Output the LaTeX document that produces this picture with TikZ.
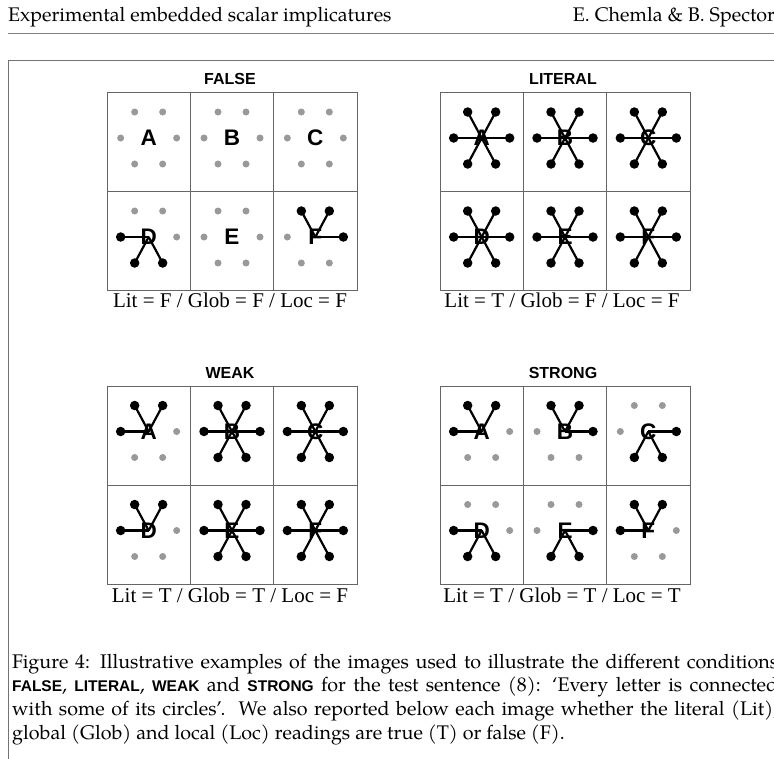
\documentclass[tikz,border=0pt]{standalone}
\usepackage{fontspec}
\setmainfont{TeX Gyre Pagella}
\newfontfamily\labfont{Liberation Serif}
\newfontfamily\sansfam{Liberation Sans}
\newcommand\cellpic[5]{%
  \node[letter] (#1) at (#2,#3) {#4};
  \node[gdot] (#1-tl) at ({#2-14},{#3-26}) {};
  \node[gdot] (#1-tr) at ({#2+14},{#3-26}) {};
  \node[gdot] (#1-l)  at ({#2-28},{#3}) {};
  \node[gdot] (#1-r)  at ({#2+28},{#3}) {};
  \node[gdot] (#1-bl) at ({#2-14},{#3+26}) {};
  \node[gdot] (#1-br) at ({#2+14},{#3+26}) {};
  \foreach \p in {#5} {%
    \draw[link] (#1-\p.center) -- (#1.center);
    \node[bdot] (#1-\p-on) at (#1-\p.center) {};
  }%
}
\newcommand\panelgrid[2]{%
  \draw[gridline] (#1,#2) rectangle ({#1+250},{#2+198});
  \draw[gridline] ({#1+83.33},#2) -- ({#1+83.33},{#2+198});
  \draw[gridline] ({#1+166.67},#2) -- ({#1+166.67},{#2+198});
  \draw[gridline] (#1,{#2+99}) -- ({#1+250},{#2+99});
}
\newcommand\capsf[1]{{\sansfam\bfseries\fontsize{15.5}{23.7}\selectfont #1}}
\begin{document}
\begin{tikzpicture}[x=1pt,y=-1pt,
  gdot/.style={circle,fill=black!40,inner sep=0,minimum size=7},
  bdot/.style={circle,fill=black,inner sep=0,minimum size=9.5},
  letter/.style={font=\sansfam\bfseries\fontsize{22.5}{22}\selectfont,inner sep=0},
  link/.style={line width=2.2,black},
  gridline/.style={draw=black!60,line width=1},
  title/.style={font=\sansfam\bfseries\fontsize{16}{16}\selectfont,anchor=base,inner sep=0},
  lab/.style={font=\labfont\fontsize{21}{22}\selectfont,anchor=base,inner sep=0},
  head/.style={font=\fontsize{19.7}{20}\selectfont,inner sep=0}]
\useasboundingbox (0,0) rectangle (774,758);
\clip (0,0) rectangle (774,758);
\fill[white] (0,0) rectangle (774,758);
% header
\node[head,anchor=base west] (headl) at (8,21) {Experimental embedded scalar implicatures};
\node[head,anchor=base east] (headr) at (775,21) {E. Chemla \& B. Spector};
\draw[black!50,line width=1.5] (8,33.5) -- (780,33.5);
% frame
\draw[black!55,line width=1] (8,770) -- (8,60) -- (780,60);
% grids
\panelgrid{107}{92}
\panelgrid{440}{92}
\panelgrid{107}{386}
\panelgrid{440}{386}
% titles
\node[title] (tfalse) at (230,84) {FALSE};
\node[title] (tlit) at (563,84) {LITERAL};
\node[title] (tweak) at (230,378) {WEAK};
\node[title] (tstrong) at (563,378) {STRONG};
% labels
\node[lab] (lfalse) at (230,307) {Lit = F / Glob = F / Loc = F};
\node[lab] (llit) at (562,307) {Lit = T / Glob = F / Loc = F};
\node[lab] (lweak) at (230,602) {Lit = T / Glob = T / Loc = F};
\node[lab] (lstrong) at (562,602) {Lit = T / Glob = T / Loc = T};
% FALSE
\cellpic{fa}{148.67}{138}{A}{}
\cellpic{fb}{232}{138}{B}{}
\cellpic{fc}{315.33}{138}{C}{}
\cellpic{fd}{148.67}{237}{D}{l,bl,br}
\cellpic{fe}{232}{237}{E}{}
\cellpic{ff}{315.33}{237}{F}{tl,tr,r}
% LITERAL
\cellpic{la}{481.67}{138}{A}{tl,tr,l,r,bl,br}
\cellpic{lb}{565}{138}{B}{tl,tr,l,r,bl,br}
\cellpic{lc}{648.33}{138}{C}{tl,tr,l,r,bl,br}
\cellpic{ld}{481.67}{237}{D}{tl,tr,l,r,bl,br}
\cellpic{le}{565}{237}{E}{tl,tr,l,r,bl,br}
\cellpic{lf}{648.33}{237}{F}{tl,tr,l,r,bl,br}
% WEAK
\cellpic{wa}{148.67}{431.5}{A}{tl,tr,l}
\cellpic{wb}{232}{431.5}{B}{tl,tr,l,r,bl,br}
\cellpic{wc}{315.33}{431.5}{C}{tl,tr,l,r,bl,br}
\cellpic{wd}{148.67}{530.5}{D}{tl,tr,l}
\cellpic{we}{232}{530.5}{E}{tl,tr,l,r,bl,br}
\cellpic{wf}{315.33}{530.5}{F}{tl,tr,l,r,bl,br}
% STRONG
\cellpic{sa}{481.67}{431.5}{A}{tl,tr,l}
\cellpic{sb}{565}{431.5}{B}{tl,tr,r}
\cellpic{sc}{648.33}{431.5}{C}{r,bl,br}
\cellpic{sd}{481.67}{530.5}{D}{l,bl,br}
\cellpic{se}{565}{530.5}{E}{r,bl,br}
\cellpic{sf}{648.33}{530.5}{F}{tl,tr,l}
% caption
\node[anchor=base west,inner sep=0,font=\fontsize{19.7}{23.7}\selectfont] (cap) at (12,668)
 {\parbox[t]{766pt}{Figure 4: Illustrative examples of the images used to illustrate the different conditions\linebreak
 \capsf{FALSE}, \capsf{LITERAL}, \capsf{WEAK} and \capsf{STRONG} for the test sentence (8): ‘Every letter is connected\linebreak
 with some of its circles’.\ \ We also reported below each image whether the literal (Lit),\linebreak
 global (Glob) and local (Loc) readings are true (T) or false (F).}};
\end{tikzpicture}
\end{document}
